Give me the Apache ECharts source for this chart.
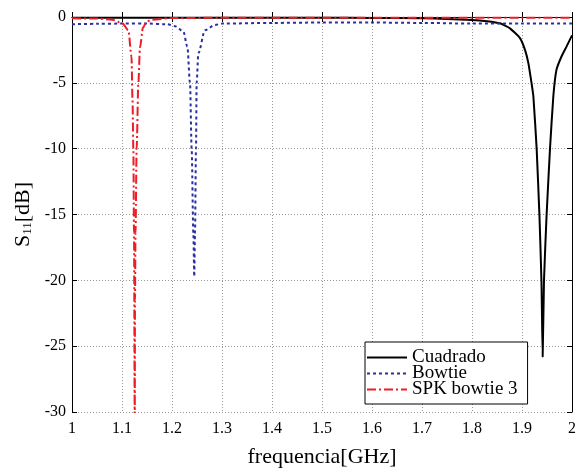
<!DOCTYPE html>
<html>
<head>
<meta charset="utf-8">
<script src="https://cdn.jsdelivr.net/npm/echarts@6/dist/echarts.min.js"></script>
<style>
html,body{margin:0;padding:0;background:#fff;}
#chart{width:575px;height:472px;}
</style>
</head>
<body>
<div id="chart"></div>
<script>
// frecuencias [GHz] y S11 [dB]
var cuadradoF = [1.0, 1.1, 1.2, 1.3, 1.4, 1.5, 1.6, 1.7, 1.75, 1.8, 1.83, 1.856, 1.876, 1.896, 1.906, 1.9127, 1.919, 1.9227, 1.9293, 1.935, 1.939, 1.9413, 1.944, 1.949, 1.956, 1.9627, 1.969, 1.979, 1.989, 2.0];
var cuadradoS = [-0.05, -0.05, -0.05, -0.05, -0.05, -0.06, -0.07, -0.1, -0.15, -0.22, -0.32, -0.48, -0.86, -1.6, -2.5, -3.5, -5.0, -6.0, -10.0, -15.2, -20.2, -25.8, -20.0, -15.2, -10.0, -6.0, -4.0, -3.0, -2.25, -1.4];

var bowtieF = [1.0, 1.05, 1.1, 1.15, 1.19, 1.206, 1.2227, 1.2307, 1.236, 1.2393, 1.2427, 1.2445, 1.246, 1.248, 1.2493, 1.2527, 1.266, 1.286, 1.3, 1.4, 1.5, 1.6, 1.7, 1.8, 1.9, 2.0];
var bowtieS = [-0.55, -0.52, -0.5, -0.5, -0.55, -0.7, -1.1, -2.25, -5.0, -10.0, -16.4, -19.7, -16.4, -10.0, -5.0, -2.75, -1.0, -0.6, -0.5, -0.45, -0.42, -0.42, -0.45, -0.5, -0.5, -0.5];

var spkF = [1.0, 1.05, 1.08, 1.1, 1.1127, 1.119, 1.121, 1.1227, 1.124, 1.1255, 1.126, 1.127, 1.1293, 1.1327, 1.136, 1.142, 1.149, 1.16, 1.2, 1.3, 1.4, 1.5, 1.6, 1.7, 1.8, 1.9, 2.0];
var spkS = [-0.1, -0.12, -0.2, -0.45, -1.0, -3.0, -6.3, -10.0, -16.4, -31.0, -21.5, -16.4, -10.0, -5.0, -2.3, -0.8, -0.35, -0.2, -0.08, -0.06, -0.06, -0.06, -0.06, -0.06, -0.06, -0.06, -0.06];

var xTicks = [1, 1.1, 1.2, 1.3, 1.4, 1.5, 1.6, 1.7, 1.8, 1.9, 2];
var seriesNames = ['Cuadrado', 'Bowtie', 'SPK bowtie 3'];

function pairs(f, s) {
    var out = [];
    for (var i = 0; i < f.length; i++) {
        out.push([f[i], s[i]]);
    }
    return out;
}

var chart = echarts.init(document.getElementById('chart'));
var serif = '"Liberation Serif", "DejaVu Serif", serif';
var gridLine = {show: true, lineStyle: {color: '#999', type: [1, 2], width: 1}};

chart.setOption({
    animation: false,
    backgroundColor: '#fff',
    textStyle: {fontFamily: serif},
    grid: {left: 72, right: 3, top: 17, bottom: 60, outerBoundsMode: 'none'},
    legend: {
        data: seriesNames,
        orient: 'vertical',
        left: 365,
        top: 342,
        itemWidth: 40,
        itemHeight: 14,
        itemGap: -3,
        padding: [6, 10, 5, 1],
        borderColor: '#000',
        borderWidth: 1,
        backgroundColor: '#fff',
        itemStyle: {opacity: 0},
        textStyle: {fontFamily: serif, fontSize: 19, lineHeight: 16, color: '#000'}
    },
    xAxis: [{
        type: 'value',
        min: 1,
        max: 2,
        interval: 0.1,
        name: 'frequencia[GHz]',
        nameLocation: 'middle',
        nameGap: 34,
        nameTextStyle: {fontFamily: serif, fontSize: 22, color: '#000'},
        axisLine: {lineStyle: {color: '#000', width: 1}},
        axisTick: {inside: true, length: 5, lineStyle: {color: '#000'}},
        axisLabel: {
            fontFamily: serif, fontSize: 16, color: '#000', margin: 9,
            formatter: function (v) {
                var r = Math.round(v * 10) / 10;
                return xTicks.indexOf(r) >= 0 ? String(r) : '';
            }
        },
        splitLine: gridLine
    }, {
        type: 'value',
        position: 'top',
        min: 1,
        max: 2,
        interval: 0.1,
        axisLine: {lineStyle: {color: '#000', width: 1}},
        axisTick: {inside: true, length: 5, lineStyle: {color: '#000'}},
        axisLabel: {show: false},
        splitLine: {show: false}
    }],
    yAxis: [{
        type: 'value',
        min: -30,
        max: 0,
        interval: 5,
        name: '{s|S}{sub|11}{s|[dB]}',
        nameLocation: 'middle',
        nameGap: 34,
        nameRotate: 90,
        nameTextStyle: {
            rich: {
                s: {fontFamily: serif, fontSize: 22, color: '#000'},
                sub: {fontFamily: serif, fontSize: 13, color: '#000', verticalAlign: 'bottom', padding: [9, 0, 0, 0]}
            }
        },
        axisLine: {lineStyle: {color: '#000', width: 1}},
        axisTick: {inside: true, length: 5, lineStyle: {color: '#000'}},
        axisLabel: {fontFamily: serif, fontSize: 16, color: '#000', margin: 6},
        splitLine: gridLine
    }, {
        type: 'value',
        position: 'right',
        min: -30,
        max: 0,
        interval: 5,
        axisLine: {show: true, lineStyle: {color: '#000', width: 1}},
        axisTick: {show: true, inside: true, length: 5, lineStyle: {color: '#000'}},
        axisLabel: {show: false},
        splitLine: {show: false}
    }],
    series: [{
        name: 'Cuadrado',
        type: 'line',
        data: pairs(cuadradoF, cuadradoS),
        showSymbol: false,
        smooth: 0.15,
        color: '#000',
        lineStyle: {color: '#000', width: 2, type: 'solid'}
    }, {
        name: 'Bowtie',
        type: 'line',
        data: pairs(bowtieF, bowtieS),
        showSymbol: false,
        smooth: 0.3,
        smoothMonotone: 'x',
        color: '#2a2fa0',
        lineStyle: {color: '#2a2fa0', width: 2, type: [3, 3]}
    }, {
        name: 'SPK bowtie 3',
        type: 'line',
        data: pairs(spkF, spkS),
        showSymbol: false,
        smooth: 0.3,
        smoothMonotone: 'x',
        color: '#ee1c25',
        lineStyle: {color: '#ee1c25', width: 2, type: [9, 3, 2, 3]}
    }]
});
</script>
</body>
</html>
